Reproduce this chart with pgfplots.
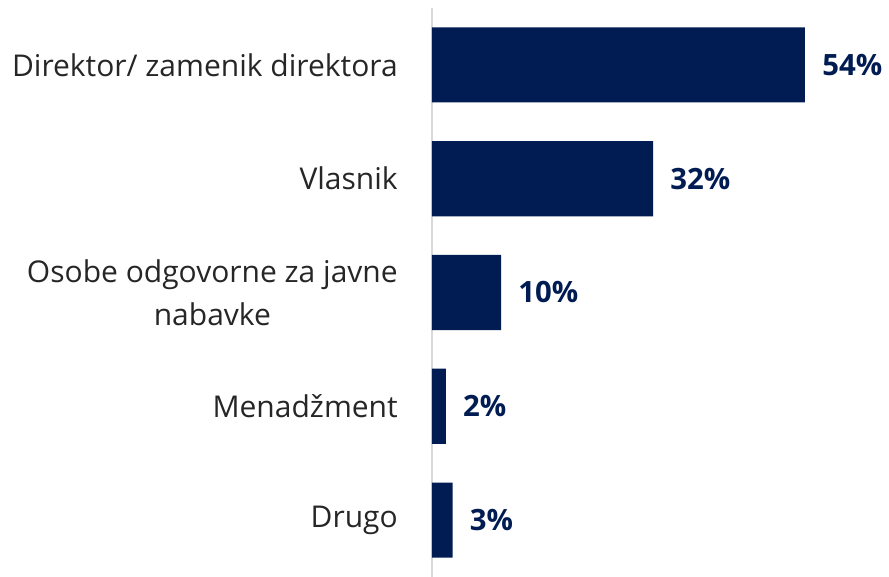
\documentclass[border=0pt]{standalone}
\usepackage{fontspec}
\setmainfont{Open Sans}
\usepackage{pgfplots}
\pgfplotsset{compat=1.18}
\usetikzlibrary{calc}
\definecolor{navy}{HTML}{001C52}
\definecolor{txt}{HTML}{262626}
\definecolor{axisgray}{HTML}{D9D9D9}
\begin{document}
\begin{tikzpicture}
\begin{axis}[
  name=ax,
  xbar, bar width=0.66,
  scale only axis, width=279.75pt, height=426.75pt,
  xmin=0, xmax=54, ymin=-0.5, ymax=4.5, y dir=reverse,
  axis x line=none, axis y line*=left,
  y axis line style={axisgray, line width=1pt, -},
  ytick={0,1,2,3,4},
  yticklabels={Direktor/ zamenik direktora, Vlasnik, {Osobe odgovorne za javne\\nabavke}, Menadžment, Drugo},
  major tick length=0pt,
  yticklabel style={font=\fontsize{22.5}{32}\selectfont, text=txt, align=center, anchor=east, inner sep=0pt, xshift=-25.5pt},
  /pgf/number format/assume math mode=true,
  point meta=x,
  nodes near coords={\pgfmathprintnumber{\pgfplotspointmeta}\%},
  nodes near coords style={font=\fontsize{22}{26}\bfseries\selectfont, text=navy, anchor=west, inner sep=0pt, xshift=12.75pt},
  clip=false,
]
\addplot[fill=navy, draw=none] coordinates {(54,0) (32,1) (10,2) (2,3) (3,4)};
\end{axis}
\pgfresetboundingbox
\path[use as bounding box] ($(ax.south west)+(-324pt,0)$) rectangle ($(ax.north east)+(63pt,6pt)$);
\end{tikzpicture}
\end{document}
